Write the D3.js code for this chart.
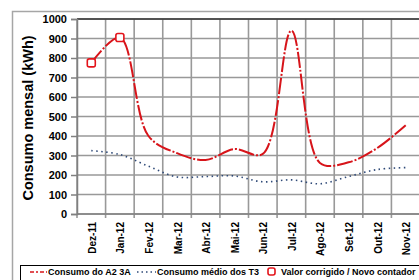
<!DOCTYPE html>
<html>
<head>
<meta charset="utf-8">
<script src="https://cdn.jsdelivr.net/npm/d3@7"></script>
<style>
  body { margin: 0; background: #fff; }
  svg { display: block; font-family: "Liberation Sans", Arial, sans-serif; }
</style>
</head>
<body>
<script>
// months on the x axis
var months = ["Dez-11", "Jan-12", "Fev-12", "Mar-12", "Abr-12", "Mai-12",
              "Jun-12", "Jul-12", "Ago-12", "Set-12", "Out-12", "Nov-12"];
// Consumo do A2 3A (kWh)
var consumoA2 = [775, 905, 400, 312, 277, 333, 308, 940, 262, 265, 338, 455];
// Consumo medio dos T3 (kWh)
var consumoT3 = [325, 305, 245, 190, 192, 195, 165, 175, 155, 192, 228, 238];
// corrected values / new meter
var corrigidos = ["Dez-11", "Jan-12"];
var yTicks = [0, 100, 200, 300, 400, 500, 600, 700, 800, 900, 1000];

var w = 419, h = 280;

var svg = d3.select("body")
    .append("svg")
    .attr("width", w)
    .attr("height", h);

// outer chart border
svg.append("path")
    .attr("d", "M12.5," + h + "V11.5H" + w)
    .attr("fill", "none")
    .attr("stroke", "#a6a6a6")
    .attr("stroke-width", 1.5);

var x = d3.scaleBand()
    .domain(months)
    .range([77, 420]);

var y = d3.scaleLinear()
    .domain([0, 1000])
    .range([214, 19]);

// grid as one path
var gp = d3.path();
yTicks.forEach(function (t) {
    gp.moveTo(77, y(t));
    gp.lineTo(420, y(t));
});
months.forEach(function (m) {
    gp.moveTo(x(m), y(1000));
    gp.lineTo(x(m), y(0) + 4);
});
svg.append("path")
    .attr("d", gp.toString())
    .attr("fill", "none")
    .style("stroke", "#999999")
    .style("stroke-width", "1.6px");

// dark top edge of the plot
svg.append("path")
    .attr("d", "M77," + y(1000) + "H420")
    .style("stroke", "#333333")
    .style("stroke-width", "1.6px");

// y axis
var yAxis = svg.append("g")
    .attr("transform", "translate(77,0)")
    .call(d3.axisLeft(y).tickValues(yTicks).tickFormat(d3.format("d")).tickSize(6).tickPadding(4));
yAxis.select(".domain").attr("stroke", "#808080").attr("stroke-width", 1.5);
yAxis.selectAll(".tick line").attr("stroke", "#808080").attr("stroke-width", 1.5);
yAxis.selectAll("text")
    .attr("font-size", 11)
    .attr("font-weight", "bold")
    .attr("fill", "#000");

// x axis line
svg.append("line")
    .attr("x1", 77)
    .attr("x2", 420)
    .attr("y1", y(0))
    .attr("y2", y(0))
    .attr("stroke", "#808080")
    .attr("stroke-width", 1.5);

// x labels
svg.append("g")
    .selectAll("text")
    .data(months)
    .enter()
    .append("text")
    .attr("transform", function (d) {
        return "translate(" + (x(d) + x.bandwidth() / 2 + 1) + ",222) rotate(-90)";
    })
    .attr("text-anchor", "end")
    .attr("dy", "0.35em")
    .attr("font-size", 10)
    .attr("font-weight", "bold")
    .text(function (d) { return d; });

// y title
svg.append("text")
    .attr("transform", "translate(33,118) rotate(-90)")
    .attr("text-anchor", "middle")
    .attr("font-size", 14.5)
    .attr("font-weight", "bold")
    .text("Consumo mensal (kWh)");

var line = d3.line()
    .x(function (d, i) { return x(months[i]) + x.bandwidth() / 2; })
    .y(function (d) { return y(d); })
    .curve(d3.curveCatmullRom.alpha(0.5));

svg.append("path")
    .datum(consumoT3)
    .attr("d", line)
    .attr("fill", "none")
    .attr("stroke", "#2f4a78")
    .attr("stroke-width", 1.6)
    .attr("stroke-dasharray", "1.5,3.5");

svg.append("path")
    .datum(consumoA2)
    .attr("d", line)
    .attr("fill", "none")
    .attr("stroke", "#d7141a")
    .attr("stroke-width", 2)
    .attr("stroke-dasharray", "16,2,2,2");

// corrected value markers
svg.append("g")
    .selectAll("rect")
    .data(corrigidos)
    .enter()
    .append("rect")
    .attr("x", function (d) { return x(d) + x.bandwidth() / 2 - 4; })
    .attr("y", function (d) { return y(consumoA2[months.indexOf(d)]) - 4; })
    .attr("width", 8)
    .attr("height", 8)
    .attr("rx", 2)
    .attr("fill", "#fff")
    .attr("stroke", "#e3141b")
    .attr("stroke-width", 1.6);

// legend
var lg = svg.append("g");
lg.append("rect")
    .attr("x", 20.5)
    .attr("y", 265.5)
    .attr("width", 420)
    .attr("height", 30)
    .attr("fill", "#fff")
    .attr("stroke", "#000")
    .attr("stroke-width", 1);

lg.append("line")
    .attr("x1", 30).attr("x2", 47)
    .attr("y1", 272).attr("y2", 272)
    .attr("stroke", "#d7141a")
    .attr("stroke-width", 1.6)
    .attr("stroke-dasharray", "4,2,2,2");
lg.append("text")
    .attr("x", 48).attr("y", 272).attr("dy", "0.35em")
    .attr("font-size", 9).attr("font-weight", "bold")
    .text("Consumo do A2 3A");

lg.append("line")
    .attr("x1", 137).attr("x2", 156)
    .attr("y1", 272).attr("y2", 272)
    .attr("stroke", "#2f4a78")
    .attr("stroke-width", 1.6)
    .attr("stroke-dasharray", "1.5,3");
lg.append("text")
    .attr("x", 157).attr("y", 272).attr("dy", "0.35em")
    .attr("font-size", 9).attr("font-weight", "bold")
    .text("Consumo médio dos T3");

lg.append("rect")
    .attr("x", 268).attr("y", 268)
    .attr("width", 7).attr("height", 7)
    .attr("rx", 2)
    .attr("fill", "#fff")
    .attr("stroke", "#e3141b")
    .attr("stroke-width", 1.6);
lg.append("text")
    .attr("x", 281).attr("y", 272).attr("dy", "0.35em")
    .attr("font-size", 9).attr("font-weight", "bold")
    .text("Valor corrigido / Novo contador");
</script>
</body>
</html>
